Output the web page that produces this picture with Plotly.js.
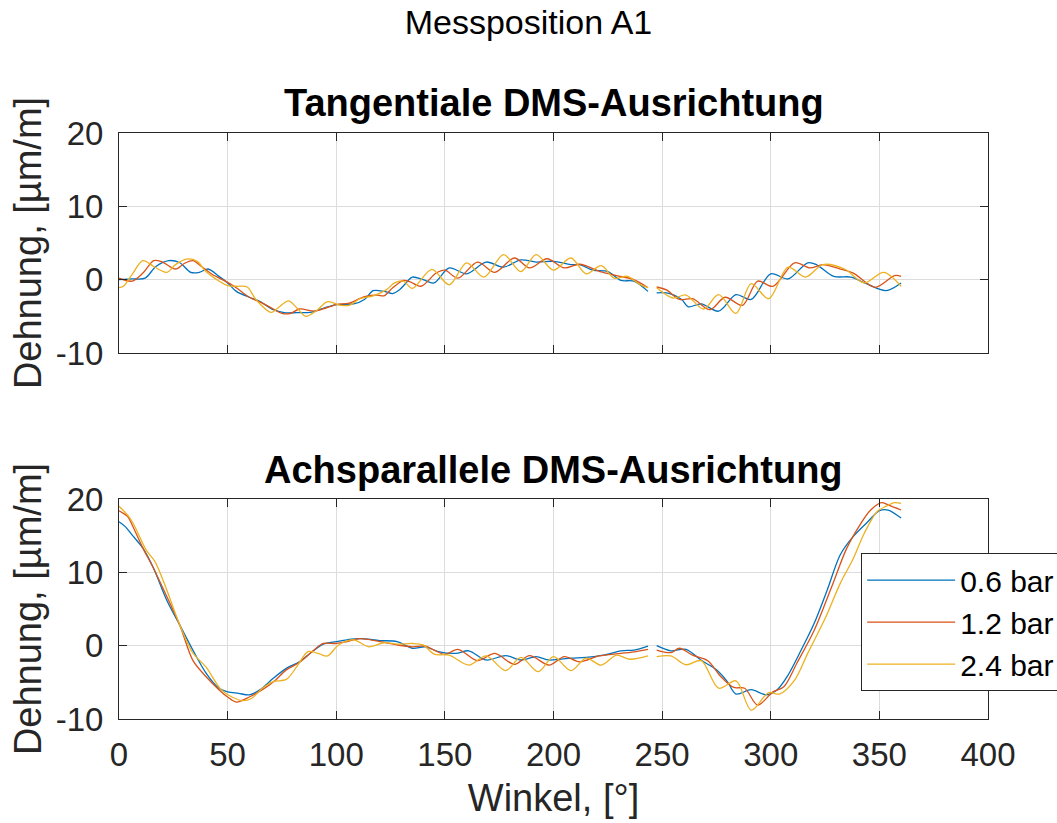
<!DOCTYPE html>
<html>
<head>
<meta charset="utf-8">
<script src="https://cdn.plot.ly/plotly-3.0.1.min.js"></script>
<style>html,body{margin:0;padding:0;background:#fff;}#chart{width:1057px;height:823px;}</style>
</head>
<body>
<div id="chart"></div>
<script>
// ---------- data (angle in degrees, strain in µm/m); null = gap ----------
const seriesNames = ["0.6 bar", "1.2 bar", "2.4 bar"];
const seriesColors = ["#0072BD", "#D95319", "#EDB120"];

// Tangentiale DMS-Ausrichtung
const tanX06 = [0,6,12,17,23,28,33,37,41,46,50,54,60,65,71,76,82,88,94,100,108,113,117,122,126,129,132,135,140,145,152,160,169,177,185,192,200,208,212,218,225,231,237,243.5,
  245.5,
  247.5,252,259,262,268,276,284,291,300,308,317,321,329,337,344,353,360];
const tanY06 = [0,0.1,0.2,1.8,2.6,2.3,1.0,1.0,1.45,0.45,-0.45,-1.6,-2.4,-3.0,-4.1,-4.5,-4.5,-4.45,-3.9,-3.4,-3.3,-2.7,-1.5,-1.6,-1.9,-1.4,-0.5,0.35,0,-0.45,1.6,0.8,2.4,1.7,2.7,2.4,2.5,2.05,2.05,1.3,1.1,-0.1,-0.2,-1.6,
  null,
  -1.8,-1.8,-2.7,-3.7,-3.3,-4.3,-2.05,-2.7,0.8,0.1,2.3,2.05,0.45,0.35,-0.55,-1.5,-0.45];

const tanX12 = [0,6,11,16,20,26,30,34,38,43,49,54,60,66,71,75,79,83,90,94,100,106,113,119,122,126,131,134,139,146,150,156,165,173,182,189,197,205,212,222,229,237,243.5,
  245.5,
  247.5,252,258,264,272,279,287,294,301,311,318,324,332,338,348,357,360];
const tanY12 = [0.2,-0.2,0.9,2.6,2.4,1.45,2.2,2.6,1.8,0.7,-0.2,-1.1,-2.4,-3.2,-4.0,-4.6,-4.6,-4.0,-4.3,-4.0,-3.4,-3.2,-2.3,-2.1,-2.2,-1.1,-0.1,-0.3,-0.9,0.9,1.3,0.2,2.4,1.0,2.95,1.6,2.85,1.6,2.1,1.05,0.55,0,-1.1,
  null,
  -1.0,-1.4,-2.7,-2.6,-4.1,-2.4,-3.5,-0.2,-0.9,2.3,1.6,2.05,1.45,0.9,-1.05,0.55,0.45];

const tanX24 = [0,2,6,11,16,22,26,31,36,40,45,50,54,59,63,70,73,78,82,86,91,96,102,106,111,117,123,127,131,135,144,152,160,168,177,185,192,200,208,215,222,228,234,240,243.5,
  245.5,
  247.5,255,261,269,276,284,291,299,308,316,324,334,343,352,360];
const tanY24 = [-1.1,-0.9,0.7,2.6,1.8,1.0,2.05,2.8,2.5,1.1,0,-0.8,-0.9,-1.0,-2.7,-4.45,-3.9,-2.9,-3.9,-5.0,-4.2,-3.0,-3.5,-3.5,-2.6,-2.2,-1.4,-0.4,-0.2,-1.2,1.4,-0.7,2.3,0.35,3.4,1.1,3.4,1.3,2.95,0.8,1.9,0.2,0.45,-0.7,-1.1,
  null,
  -1.1,-2.5,-2.1,-4.0,-2.05,-4.6,-0.55,-2.6,1.7,0.35,2.05,1.45,-0.45,1.0,-0.9];

// Achsparallele DMS-Ausrichtung
const axX06 = [0,3,6,11,16,22,28,34,40,46,50,55,60,65,71,77,83,89,94,100,105,111,120,128,135,141,147,155,161,169,178,185,192,198,208,215,223,231,237,243.5,
  245.5,
  247.5,254,261,268,275,280,284,291,298,303,308,314,320,326,332,338,344,350,354,360];
const axY06 = [16.9,16.2,15.1,13.3,10.5,6.2,2.8,-0.6,-3.7,-5.8,-6.3,-6.5,-6.7,-6.0,-4.45,-3.1,-2.2,-0.8,0.2,0.55,0.8,0.95,0.7,0.55,-0.35,-0.15,-0.8,-1.05,-0.7,-1.95,-1.35,-1.95,-1.5,-1.95,-1.7,-1.6,-1.3,-0.7,-0.6,-0.05,
  null,
  0,-0.7,-0.5,-2.0,-3.3,-4.9,-6.6,-6.0,-6.7,-6.0,-4.0,-0.6,3.05,7.6,12.4,14.9,16.7,18.4,18.5,17.4];

const axX12 = [0,4,6,11,16,22,28,34,40,46,50,54,60,66,72,77,83,89,94,100,105,111,120,128,135,141,145,150,156,165,173,182,189,198,205,212,221,231,238,243.5,
  245.5,
  247.5,254,258,264,271,277,283,288,294,301,306,312,320,328,335,341,346,351,354,360];
const axY12 = [18.4,17.6,16.5,13.3,10.5,6.7,2.8,-2.0,-4.2,-6.0,-7.0,-7.7,-7.0,-6.0,-4.7,-3.3,-2.3,-0.8,0.3,0.3,0.55,0.95,0.55,0.1,-0.15,-0.05,-0.6,-1.2,-0.5,-2.05,-1.05,-2.55,-1.35,-2.65,-1.5,-2.2,-1.4,-1.05,-0.8,-0.5,
  null,
  -0.6,-0.95,-0.35,-1.3,-2.05,-4.2,-5.7,-5.8,-8.1,-6.3,-5.6,-2.4,2.1,8.0,13.3,16.45,18.5,19.5,19.2,18.5];

const axX24 = [0,4,6.5,12.6,16.5,22,28,34,40,47,52,57,61,66,71,77,82,87,92,96,101,108,115,122,128,135,140,145,152,161,169,178,185,193,200,208,215,222,229,235,243.5,
  245.5,
  247.5,254,261,268,276,284,291,299,304,311,317,325,332,338,343,349,353,357,360];
const axY24 = [19.0,17.8,16.7,13.0,11.5,7.6,2.8,-1.0,-2.9,-6.0,-7.0,-7.5,-7.2,-5.8,-4.9,-4.6,-2.8,-0.8,-1.1,-1.4,0.1,0.8,-0.15,0.4,0.2,0.3,0.1,-1.15,-1.3,-2.65,-1.4,-3.4,-1.6,-3.55,-1.5,-3.4,-1.7,-2.65,-1.3,-1.85,-1.4,
  null,
  -1.5,-1.4,-2.6,-2.05,-5.8,-4.8,-8.8,-6.4,-6.6,-4.7,-1.05,3.7,8.5,11.9,15.3,18.3,19.0,19.5,19.4];

const xTicks = [0,50,100,150,200,250,300,350,400];
const yTicks = [-10,0,10,20];
const xTickText = xTicks.map(String);
const yTickText = yTicks.map(String);

const tanX = [tanX06, tanX12, tanX24], tanY = [tanY06, tanY12, tanY24];
const axX = [axX06, axX12, axX24], axY = [axY06, axY12, axY24];

// ---------- traces ----------
const traces = [];
for (let i = 0; i < 3; i++) {
  traces.push({x: tanX[i], y: tanY[i], xaxis: 'x', yaxis: 'y', type: 'scatter', mode: 'lines',
    name: seriesNames[i], showlegend: false, connectgaps: false,
    line: {color: seriesColors[i], width: 1.3, shape: 'spline', smoothing: 0.9}});
}
for (let i = 0; i < 3; i++) {
  traces.push({x: axX[i], y: axY[i], xaxis: 'x2', yaxis: 'y2', type: 'scatter', mode: 'lines',
    name: seriesNames[i], showlegend: true, connectgaps: false,
    line: {color: seriesColors[i], width: 1.3, shape: 'spline', smoothing: 0.9}});
}

const FONT = 'Liberation Sans, Arial, Helvetica, sans-serif';
const axisCommon = {
  range: [0, 400], tickvals: xTicks, ticktext: xTickText, ticks: 'inside', ticklen: 8, tickcolor: '#262626',
  showline: true, linecolor: '#262626', linewidth: 1, mirror: 'ticks',
  showgrid: true, gridcolor: '#dcdcdc', gridwidth: 1, zeroline: false,
  tickfont: {family: FONT, size: 33, color: '#262626'}
};
const yCommon = {
  range: [-10, 20], tickvals: yTicks, ticktext: yTickText, ticks: 'inside', ticklen: 8, tickcolor: '#262626',
  showline: true, linecolor: '#262626', linewidth: 1, mirror: 'ticks',
  showgrid: true, gridcolor: '#dcdcdc', gridwidth: 1, zeroline: false,
  tickfont: {family: FONT, size: 33, color: '#262626'}, ticklabelstandoff: 8,
  title: {text: 'Dehnung, [µm/m]', font: {family: FONT, size: 38, color: '#262626'}, standoff: 2}
};

const layout = {
  width: 1057, height: 823,
  paper_bgcolor: '#ffffff', plot_bgcolor: '#ffffff',
  margin: {l: 119, r: 69, t: 133, b: 104, pad: 0, autoexpand: false},
  font: {family: FONT, color: '#262626'},
  title: {text: 'Messposition A1', font: {family: FONT, size: 34, color: '#000000'},
    x: 0.5, xanchor: 'center', xref: 'container', y: 1 - 22/823, yanchor: 'middle', yref: 'container'},
  xaxis: Object.assign({}, axisCommon, {anchor: 'y', matches: 'x2', showticklabels: false}),
  yaxis: Object.assign({}, yCommon, {domain: [0.6246, 1], anchor: 'x'}),
  xaxis2: Object.assign({}, axisCommon, {anchor: 'y2', ticklabelstandoff: 6,
    title: {text: 'Winkel, [°]', font: {family: FONT, size: 38, color: '#262626'}, standoff: 12}}),
  yaxis2: Object.assign({}, yCommon, {domain: [0, 0.3754], anchor: 'x2'}),
  showlegend: true,
  legend: {x: 0.854, y: 0.283, xanchor: 'left', yanchor: 'top', xref: 'paper', yref: 'paper',
    bgcolor: '#ffffff', bordercolor: '#262626', borderwidth: 1, itemwidth: 88,
    font: {family: FONT, size: 30, color: '#000000'}},
  annotations: [
    {text: '<b>Tangentiale DMS-Ausrichtung</b>', xref: 'paper', yref: 'paper', x: 0.5, y: 1 + 30/586,
      xanchor: 'center', yanchor: 'middle', showarrow: false, font: {family: FONT, size: 38, color: '#000000'}},
    {text: '<b>Achsparallele DMS-Ausrichtung</b>', xref: 'paper', yref: 'paper', x: 0.5, y: (719-470)/586,
      xanchor: 'center', yanchor: 'middle', showarrow: false, font: {family: FONT, size: 38, color: '#000000'}}
  ]
};

Plotly.newPlot('chart', traces, layout, {displayModeBar: false, staticPlot: true});
</script>
</body>
</html>
